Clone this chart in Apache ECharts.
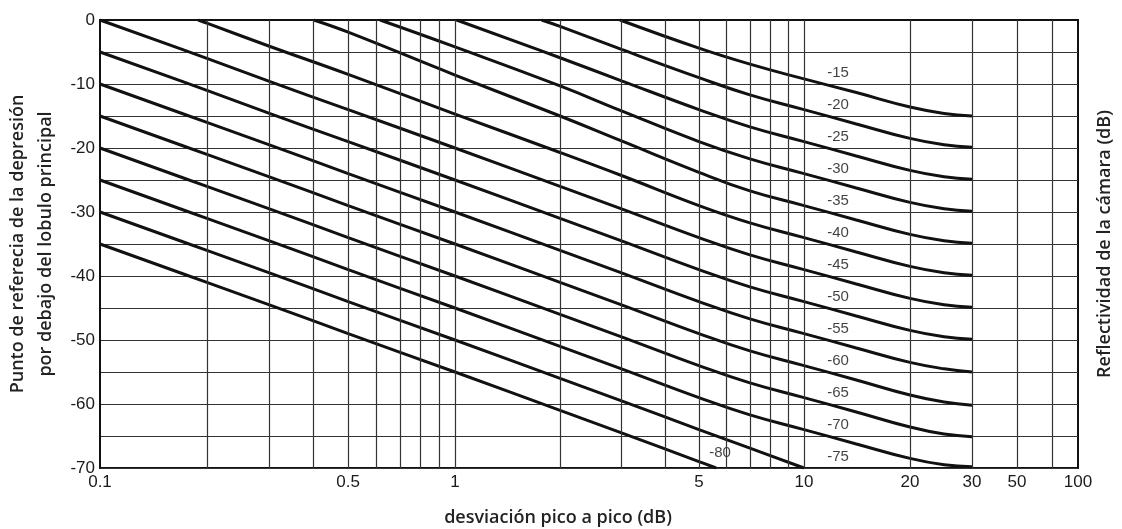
<!DOCTYPE html>
<html><head><meta charset="utf-8">
<script src="https://cdn.jsdelivr.net/npm/echarts@6/dist/echarts.min.js"></script>
<style>html,body{margin:0;padding:0;background:#fff}#c{width:1122px;height:529px}</style>
</head><body><div id="c"></div>
<script>
// ---- data ----
const X_TICK_LABELS = [0.1, 0.5, 1, 5, 10, 20, 30, 50, 100];
const X_GRID = [0.2,0.3,0.4,0.5,0.6,0.7,0.8,0.9,1,2,3,4,5,6,7,8,9,10,20,30,50,70];
const Y_LABELS = [0, -10, -20, -30, -40, -50, -60, -70];
const REFLECTIVITY = [-15,-20,-25,-30,-35,-40,-45,-50,-55,-60,-65,-70,-75,-80];

const c15 = [[2.97,0],[5,-4.4],[7,-6.9],[10,-9.2],[14,-11.3],[20,-13.6],[25,-14.6],[30,-15]];
const c20 = [[1.77,0],[2,-1],[3,-4.6],[5,-9],[7,-11.7],[10,-14],[14,-16.2],[20,-18.5],[25,-19.5],[30,-19.9]];
const c25 = [[1.01,0],[2,-5.9],[3,-9.5],[5,-14],[7,-16.7],[10,-19],[14,-21.2],[20,-23.5],[25,-24.5],[30,-24.9]];
const c30 = [[0.615,0],[1,-4.2],[2,-10.3],[3,-14.2],[5,-19],[7,-21.7],[10,-24],[14,-26.2],[20,-28.5],[25,-29.5],[30,-29.9]];
const c35 = [[0.4,0],[0.5,-1.9],[1,-8.6],[2,-15],[3,-18.9],[5,-23.8],[7,-26.7],[10,-29],[14,-31.2],[20,-33.5],[25,-34.5],[30,-34.9]];
const c40 = [[0.189,0],[0.2,-0.5],[0.3,-4.1],[0.5,-8.5],[1,-14.7],[2,-20.7],[3,-24.3],[5,-29],[7,-31.7],[10,-34],[14,-36.2],[20,-38.5],[25,-39.5],[30,-39.9]];
const c45 = [[0.1,0],[0.2,-6],[0.3,-9.6],[0.5,-14],[1,-20],[2,-26],[3,-29.5],[5,-34],[7,-36.7],[10,-39],[14,-41.2],[20,-43.5],[25,-44.5],[30,-44.9]];
const c50 = [[0.1,-5],[0.2,-11],[0.3,-14.6],[0.5,-19],[1,-25],[2,-31],[3,-34.5],[5,-39],[7,-41.7],[10,-44],[14,-46.2],[20,-48.5],[25,-49.5],[30,-49.9]];
const c55 = [[0.1,-10],[0.2,-16],[0.3,-19.5],[0.5,-24],[1,-30],[2,-36],[3,-39.5],[5,-44],[7,-46.7],[10,-49],[14,-51.2],[20,-53.5],[25,-54.5],[30,-55]];
const c60 = [[0.1,-15],[0.2,-21],[0.3,-24.5],[0.5,-29],[1,-35],[2,-41],[3,-44.5],[5,-49],[7,-51.7],[10,-54],[14,-56.2],[20,-58.6],[25,-59.7],[30,-60.2]];
const c65 = [[0.1,-20],[0.2,-26],[0.3,-29.5],[0.5,-34],[1,-40],[2,-46],[3,-49.5],[5,-54],[7,-56.7],[10,-59],[14,-61.2],[20,-63.6],[25,-64.7],[30,-65.1]];
const c70 = [[0.1,-25],[0.2,-31],[0.3,-34.5],[0.5,-39],[1,-45],[2,-51],[3,-54.5],[5,-59],[7,-61.7],[10,-64],[14,-66.2],[20,-68.5],[25,-69.5],[30,-69.8]];
const c75 = [[0.1,-30],[0.2,-36],[0.3,-39.5],[0.5,-44],[1,-50],[2,-56],[3,-59.5],[5,-64],[7,-66.9],[10,-70]];
const c80 = [[0.1,-35],[0.2,-41],[0.3,-44.5],[0.5,-49],[1,-55],[2,-61],[3,-64.5],[5,-69],[5.6,-70]];
const CURVES = [c15,c20,c25,c30,c35,c40,c45,c50,c55,c60,c65,c70,c75,c80];

// ---- broken-log x scale of the original drawing ----
const SCALE_VAL = [0.1, 1, 10, 30, 50, 70, 100];
const SCALE_POS = [0, 355, 704, 872, 917, 952, 978];
function u(v){
  const lv = Math.log10(v);
  for (let i = 0; i < SCALE_VAL.length - 1; i++) {
    const a = Math.log10(SCALE_VAL[i]), b = Math.log10(SCALE_VAL[i+1]);
    if (lv <= b || i === SCALE_VAL.length - 2) {
      return SCALE_POS[i] + (lv - a) / (b - a) * (SCALE_POS[i+1] - SCALE_POS[i]);
    }
  }
}

const chart = echarts.init(document.getElementById('c'), null, {renderer: 'canvas'});
const tickFont = {fontFamily: 'Liberation Sans, Arial, sans-serif', fontSize: 17, color: '#1a1a1a'};
const titleFont = {fontFamily: 'Open Sans, sans-serif', fontSize: 18, fontWeight: 600, color: '#222'};

const series = [];
series.push({
  type: 'line', data: [[0, 0]], showSymbol: false, lineStyle: {opacity: 0}, z: 1, silent: true,
  markLine: {
    silent: true, symbol: 'none', animation: false,
    label: {show: false},
    lineStyle: {color: '#333', width: 1.2, type: 'solid'},
    data: X_GRID.map(v => ({xAxis: u(v)}))
  }
});
CURVES.forEach((c, i) => {
  series.push({
    type: 'line', name: String(REFLECTIVITY[i]),
    data: c.map(p => [u(p[0]), p[1]]),
    showSymbol: false, smooth: 0.45, z: 3, animation: false,
    lineStyle: {color: '#111', width: 3}
  });
});
series.push({
  type: 'scatter', z: 4, animation: false, silent: true,
  symbolSize: 1, itemStyle: {color: 'rgba(0,0,0,0)'},
  data: REFLECTIVITY.map(r => r === -80 ? [u(5.75), -67.7, String(r)] : [u(12.5), r + 6.8, String(r)]),
  label: {show: true, position: 'inside', formatter: p => p.data[2],
    fontFamily: 'Liberation Sans, Arial, sans-serif', fontSize: 15, color: '#111'}
});

chart.setOption({
  animation: false,
  backgroundColor: '#fff',
  grid: {left: 100, right: 44, top: 20, bottom: 61, show: true, borderColor: '#111', borderWidth: 2, outerBoundsMode: 'none'},
  xAxis: {
    type: 'value', min: 0, max: 978,
    splitLine: {show: false}, axisTick: {show: false},
    axisLine: {show: true, lineStyle: {color: '#111', width: 2}},
    axisLabel: Object.assign({
      customValues: X_TICK_LABELS.map(u), margin: 6,
      formatter: val => {
        for (const t of X_TICK_LABELS) if (Math.abs(u(t) - val) < 0.5) return String(t);
        return '';
      }
    }, tickFont)
  },
  yAxis: [{
    type: 'value', min: -70, max: 0, interval: 5,
    axisTick: {show: false},
    axisLine: {show: true, lineStyle: {color: '#111', width: 2}},
    splitLine: {show: true, lineStyle: {color: '#333', width: 1.2}},
    axisLabel: Object.assign({margin: 5, formatter: v => (Y_LABELS.indexOf(v) >= 0 ? String(v) : '')}, tickFont),
    name: 'Punto de referecia de la depresión\npor debajo del lobulo principal',
    nameLocation: 'middle', nameRotate: 90, nameGap: 39,
    nameTextStyle: Object.assign({lineHeight: 28, align: 'center'}, titleFont)
  }, {
    type: 'value', min: -70, max: 0, position: 'right',
    axisLine: {show: false}, axisTick: {show: false}, axisLabel: {show: false}, splitLine: {show: false},
    name: 'Reflectividad de la cámara (dB)',
    nameLocation: 'middle', nameRotate: 90, nameGap: 18,
    nameTextStyle: titleFont
  }],
  graphic: [{
    type: 'text', x: 558, y: 518,
    style: {text: 'desviación pico a pico (dB)', fill: '#222', textAlign: 'center', textVerticalAlign: 'middle',
      font: '600 18px "Open Sans", sans-serif'}
  }],
  series: series
});
</script></body></html>
